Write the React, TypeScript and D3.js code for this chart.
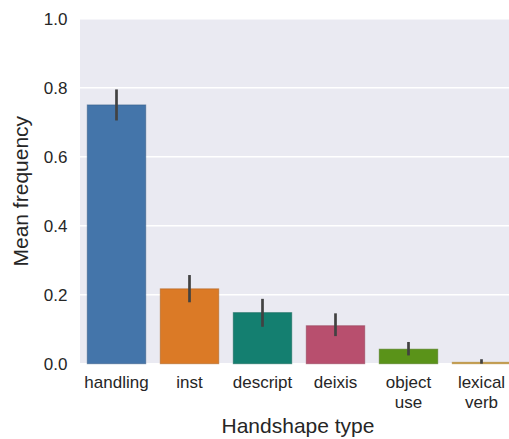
import React from "react";
import * as d3 from "d3";

const categories = ["handling", "inst", "descript", "deixis", "object use", "lexical verb"];
const tickLabels = [["handling"], ["inst"], ["descript"], ["deixis"], ["object", "use"], ["lexical", "verb"]];
const means = [0.75, 0.217, 0.148, 0.11, 0.042, 0.004];
const ciLow = [0.705, 0.178, 0.107, 0.08, 0.024, 0.0];
const ciHigh = [0.795, 0.257, 0.188, 0.146, 0.063, 0.013];
const colors = ["#4475aa", "#db7a26", "#147f70", "#b84f6e", "#5a9319", "#d0a03c"];
const yTicks = [0, 0.2, 0.4, 0.6, 0.8, 1.0];

const W = 509;
const H = 439;
const left = 80;
const right = 518;
const top = 18.7;
const bottom = 363.7;
const font = "Arial, 'Liberation Sans', sans-serif";

export default function App() {
  const x = d3.scaleBand<string>().domain(categories).range([left, right]).paddingInner(0.2).paddingOuter(0.1);
  const xc = d3.scaleBand<string>().domain(categories).range([left, right]);
  const y = d3.scaleLinear().domain([0, 1]).range([bottom, top]);

  return (
    <svg width={W} height={H} style={{ position: "absolute", left: 0, top: 0, display: "block" }} fontFamily={font}>
      <defs>
        <clipPath id="plotClip">
          <rect x={0} y={0} width={W} height={H} />
        </clipPath>
      </defs>
      <rect x={left} y={top} width={right - left} height={bottom - top} fill="#eaeaf2" />
      {yTicks.map((t) => (
        <line key={t} x1={left} x2={right} y1={y(t)} y2={y(t)} stroke="#ffffff" strokeWidth={1.5} />
      ))}
      {categories.map((c, i) => {
        const bx = x(c)!;
        const bw = x.bandwidth();
        return (
          <rect
            key={c}
            x={bx}
            y={y(means[i])}
            width={bw}
            height={y(0) - y(means[i])}
            fill={colors[i]}
            stroke={d3.color(colors[i])!.darker(0.6).formatHex()}
            strokeOpacity={0.6}
            strokeWidth={1}
          />
        );
      })}
      {categories.map((c, i) => {
        const cx = xc(c)! + xc.bandwidth() / 2;
        return (
          <line key={c} x1={cx} x2={cx} y1={y(ciLow[i])} y2={y(ciHigh[i])} stroke="#424242" strokeWidth={2.7} />
        );
      })}
      {yTicks.map((t) => (
        <text key={t} x={67.5} y={y(t)} dy="0.35em" textAnchor="end" fontSize={17} fill="#262626">
          {d3.format(".1f")(t)}
        </text>
      ))}
      {categories.map((c, i) => {
        const cx = xc(c)! + xc.bandwidth() / 2;
        return (
          <text key={c} x={cx} y={388} textAnchor="middle" fontSize={17} fill="#262626">
            {tickLabels[i].map((line, j) => (
              <tspan key={j} x={cx} dy={j === 0 ? 0 : 19.5}>
                {line}
              </tspan>
            ))}
          </text>
        );
      })}
      <text x={298} y={433} textAnchor="middle" fontSize={21} fill="#262626">
        Handshape type
      </text>
      <text
        transform={`translate(27.5, ${(top + bottom) / 2}) rotate(-90)`}
        textAnchor="middle"
        fontSize={21}
        fill="#262626"
      >
        Mean frequency
      </text>
    </svg>
  );
}
